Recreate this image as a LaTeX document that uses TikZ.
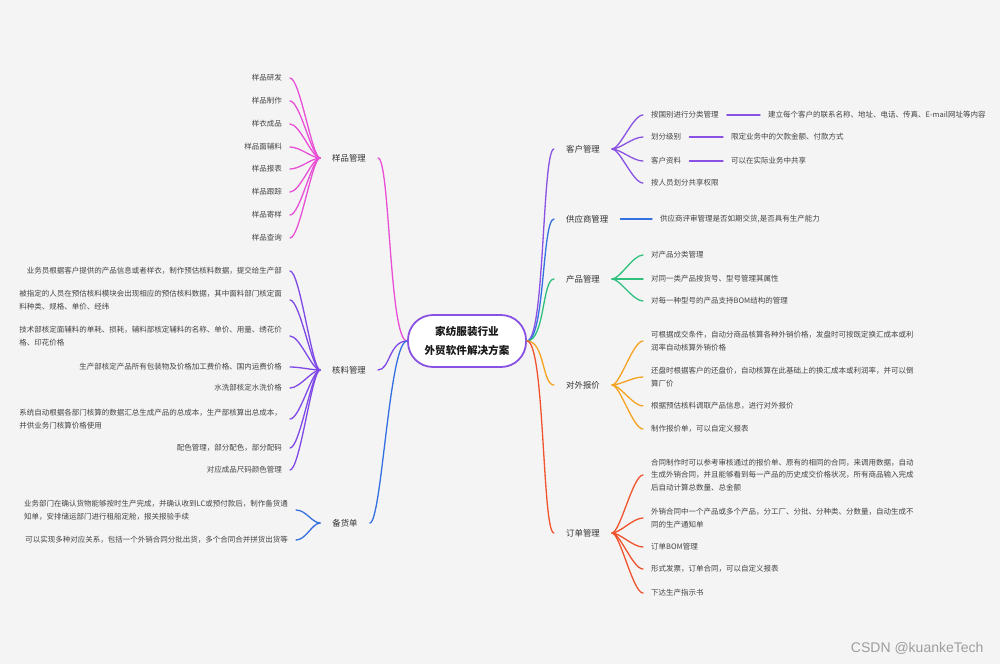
\documentclass[tikz,border=0pt]{standalone}
\usepackage{fontspec}
\setmainfont{Noto Sans CJK SC}
\newfontfamily\wmfont{Liberation Sans}
\definecolor{bg}{HTML}{F4F4F4}
\definecolor{cpink}{HTML}{E84FD6}
\definecolor{cviolet}{HTML}{8048E6}
\definecolor{cblue}{HTML}{3470E0}
\definecolor{cpurple}{HTML}{8A52E2}
\definecolor{cgreen}{HTML}{2FC07E}
\definecolor{corange}{HTML}{F4A21F}
\definecolor{cred}{HTML}{F0532D}
\definecolor{txt}{HTML}{444444}
\definecolor{ctxt}{HTML}{333333}
\begin{document}
\begin{tikzpicture}[x=1pt,y=-1pt,
  leaf/.style={font=\fontsize{7.5}{12.5}\selectfont, text=txt, inner xsep=8pt, inner ysep=1pt, align=left},
  lleaf/.style={leaf, anchor=east},
  rleaf/.style={leaf, anchor=west},
  topic/.style={font=\fontsize{8.4}{10}\selectfont, text=ctxt, inner xsep=12pt, inner ysep=2pt},
  rtopic/.style={topic, anchor=west},
  conn/.style={line width=1.3pt, line cap=round},
  ]
\fill[bg] (0,0) rectangle (1000,664);
\useasboundingbox (0,0) rectangle (1000,664);

% root
\node[draw=cpurple, line width=1.8pt, fill=white, rounded corners=25pt,
      minimum width=118pt, minimum height=52pt, align=center,
      font=\fontsize{10.6}{19}\selectfont\bfseries, text=black!90] (root) at (467,341)
      {家纺服装行业\\外贸软件解决方案};

% ---------- left topics ----------
\node[topic] (t1) at (349,158) {样品管理};
\node[topic] (t2) at (349,370) {核料管理};
\node[topic] (t3) at (345,523) {备货单};

% 样品管理 leaves
\node[lleaf] (a1) at (290,78) {样品研发};
\node[lleaf] (a2) at (290,101) {样品制作};
\node[lleaf] (a3) at (290,124) {样衣成品};
\node[lleaf] (a4) at (290,147) {样品面辅料};
\node[lleaf] (a5) at (290,169) {样品报表};
\node[lleaf] (a6) at (290,192) {样品跟踪};
\node[lleaf] (a7) at (290,215) {样品寄样};
\node[lleaf] (a8) at (290,238) {样品查询};

% 核料管理 leaves
\node[lleaf] (b1) at (290,271) {业务员根据客户提供的产品信息或者样衣，制作预估核料数据，提交给生产部};
\node[lleaf] (b2) at (290,300) {被指定的人员在预估核料模块会出现相应的预估核料数据，其中面料部门核定面\\料种类、规格、单价、经纬};
\node[lleaf] (b3) at (290,336) {技术部核定面辅料的单耗、损耗，辅料部核定辅料的名称、单价、用量、绣花价\\格、印花价格};
\node[lleaf] (b4) at (290,367) {生产部核定产品所有包装物及价格加工费价格、国内运费价格};
\node[lleaf] (b5) at (290,388) {水洗部核定水洗价格};
\node[lleaf] (b6) at (290,419) {系统自动根据各部门核算的数据汇总生成产品的总成本，生产部核算出总成本，\\并供业务门核算价格使用};
\node[lleaf] (b7) at (290,448) {配色管理，部分配色，部分配码};
\node[lleaf] (b8) at (290,470) {对应成品尺码颜色管理};

% 备货单 leaves
\node[lleaf] (d1) at (296,510) {业务部门在确认货物能够按时生产完成，并确认收到LC或预付款后，制作备货通\\知单，安排储运部门进行租船定舱，报关报验手续};
\node[lleaf] (d2) at (296,540) {可以实现多种对应关系，包括一个外销合同分批出货，多个合同合并拼货出货等};

% ---------- right topics ----------
\node[rtopic] (r1) at (554,149) {客户管理};
\node[rtopic] (r2) at (554,219) {供应商管理};
\node[rtopic] (r3) at (554,279) {产品管理};
\node[rtopic] (r4) at (554,385) {对外报价};
\node[rtopic] (r5) at (554,533) {订单管理};

% 客户管理 leaves
\node[rleaf] (p1) at (643,115) {按国别进行分类管理};
\node[rleaf] (p2) at (643,137) {划分级别};
\node[rleaf] (p3) at (643,161) {客户资料};
\node[rleaf] (p4) at (643,183) {按人员划分共享权限};
\node[rleaf] (q1) at (760,115) {建立每个客户的联系名称、地址、电话、传真、E-mail网址等内容};
\node[rleaf] (q2) at (723,137) {限定业务中的欠款金额、付款方式};
\node[rleaf] (q3) at (723,161) {可以在实际业务中共享};

% 供应商管理 leaf
\node[rleaf] (s1) at (652,219) {供应商评审管理是否如期交货,是否具有生产能力};

% 产品管理 leaves
\node[rleaf] (g1) at (643,255) {对产品分类管理};
\node[rleaf] (g2) at (643,279) {对同一类产品按货号、型号管理其属性};
\node[rleaf] (g3) at (643,301) {对每一种型号的产品支持BOM结构的管理};

% 对外报价 leaves
\node[rleaf] (o1) at (643,341) {可根据成交条件，自动分商品核算各种外销价格，发盘时可按既定换汇成本或利\\润率自动核算外销价格};
\node[rleaf] (o2) at (643,377) {还盘时根据客户的还盘价，自动核算在此基础上的换汇成本或利润率，并可以倒\\算厂价};
\node[rleaf] (o3) at (643,406) {根据预估核料调取产品信息，进行对外报价};
\node[rleaf] (o4) at (643,429) {制作报价单，可以自定义报表};

% 订单管理 leaves
\node[rleaf] (e1) at (643,475) {合同制作时可以参考审核通过的报价单、原有的相同的合同，来调用数据，自动\\生成外销合同，并且能够看到每一产品的历史成交价格状况，所有商品输入完成\\后自动计算总数量、总金额};
\node[rleaf] (e2) at (643,518) {外销合同中一个产品或多个产品，分工厂、分批、分种类、分数量，自动生成不\\同的生产通知单};
\node[rleaf] (e3) at (643,547) {订单BOM管理};
\node[rleaf] (e4) at (643,569) {形式发票，订单合同，可以自定义报表};
\node[rleaf] (e5) at (643,593) {下达生产指示书};

% ---------- connectors: root to topics ----------
\draw[conn,cpink]   (root.west) .. controls +(-18,0) and +(12,0) .. (t1.east);
\draw[conn,cviolet] (root.west) .. controls +(-18,0) and +(12,0) .. (t2.east);
\draw[conn,cblue]   (root.west) .. controls +(-18,0) and +(12,0) .. (t3.east);
\draw[conn,cpurple] (root.east) .. controls +(18,0) and +(-12,0) .. (r1.west);
\draw[conn,cblue]   (root.east) .. controls +(18,0) and +(-12,0) .. (r2.west);
\draw[conn,cgreen]  (root.east) .. controls +(18,0) and +(-12,0) .. (r3.west);
\draw[conn,corange] (root.east) .. controls +(18,0) and +(-12,0) .. (r4.west);
\draw[conn,cred]    (root.east) .. controls +(18,0) and +(-12,0) .. (r5.west);

% ---------- fans ----------
\foreach \n in {1,...,8}
  \draw[conn,cpink] (t1.west) .. controls +(-8,0) and +(10,0) .. (a\n.east);
\foreach \n in {1,...,8}
  \draw[conn,cviolet] (t2.west) .. controls +(-8,0) and +(10,0) .. (b\n.east);
\foreach \n in {1,2}
  \draw[conn,cblue] (t3.west) .. controls +(-8,0) and +(10,0) .. (d\n.east);

\foreach \n in {1,...,4}
  \draw[conn,cpurple] (r1.east) .. controls +(8,0) and +(-10,0) .. (p\n.west);
\foreach \n in {1,2,3}
  \draw[conn,cpurple] (p\n.east) -- (q\n.west);
\draw[conn,cblue] (r2.east) -- (s1.west);
\foreach \n in {1,2,3}
  \draw[conn,cgreen] (r3.east) .. controls +(8,0) and +(-10,0) .. (g\n.west);
\foreach \n in {1,...,4}
  \draw[conn,corange] (r4.east) .. controls +(8,0) and +(-10,0) .. (o\n.west);
\foreach \n in {1,...,5}
  \draw[conn,cred] (r5.east) .. controls +(8,0) and +(-10,0) .. (e\n.west);

% watermark
\node[font=\wmfont\fontsize{14}{14}\selectfont, text=black!38, anchor=east] (wm) at (987,648) {CSDN @kuankeTech};
\end{tikzpicture}
\end{document}
